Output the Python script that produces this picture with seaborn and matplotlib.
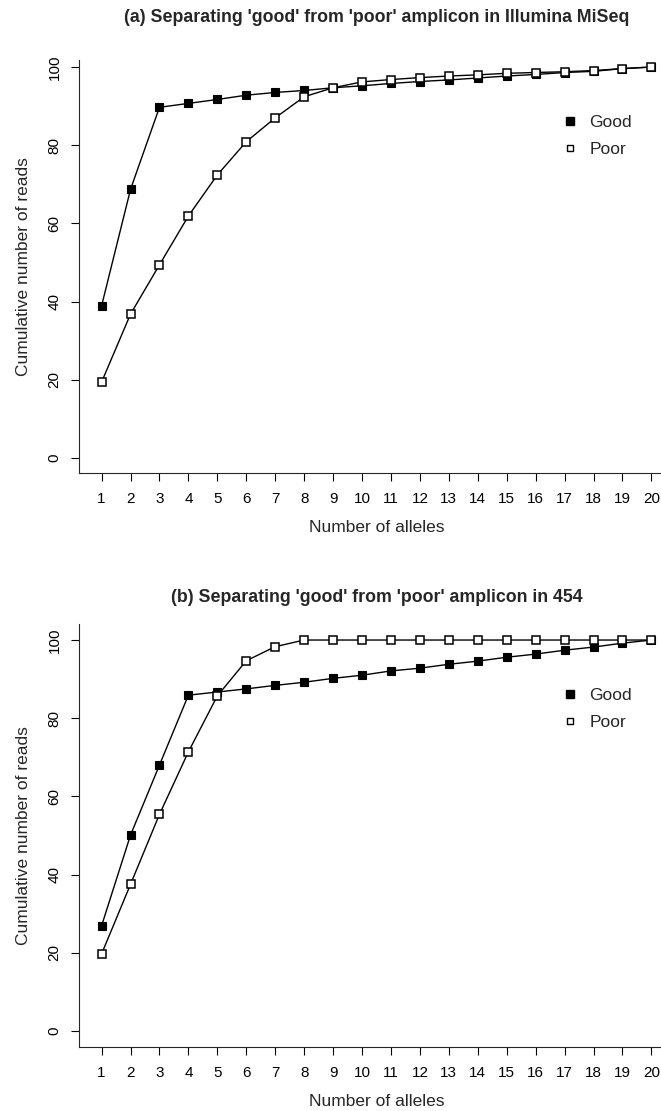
import numpy as np
import pandas as pd
import matplotlib
matplotlib.use("Agg")
import matplotlib.pyplot as plt
import seaborn as sns
from matplotlib.lines import Line2D

alleles = list(range(1, 21))

miseq_good = [38.9, 68.7, 89.7, 90.7, 91.7, 92.8, 93.5, 94.0, 94.7, 95.2,
              95.8, 96.3, 96.7, 97.2, 97.7, 98.1, 98.6, 98.9, 99.6, 100.0]
miseq_poor = [19.4, 36.8, 49.4, 61.9, 72.4, 80.9, 87.0, 92.4, 94.7, 96.2,
              96.8, 97.3, 97.7, 98.0, 98.4, 98.6, 98.8, 99.1, 99.6, 100.0]

r454_good = [26.9, 50.1, 68.0, 85.9, 86.7, 87.5, 88.4, 89.2, 90.2, 91.0,
             92.1, 92.8, 93.8, 94.6, 95.6, 96.4, 97.4, 98.2, 99.2, 100.0]
r454_poor = [19.7, 37.5, 55.4, 71.4, 85.7, 94.7, 98.3, 100.0, 100.0, 100.0,
             100.0, 100.0, 100.0, 100.0, 100.0, 100.0, 100.0, 100.0, 100.0, 100.0]

titles = ["(a) Separating 'good' from 'poor' amplicon in Illumina MiSeq",
          "(b) Separating 'good' from 'poor' amplicon in 454"]
series_labels = ["Good", "Poor"]
y_ticks = [0, 20, 40, 60, 80, 100]

sns.set_theme(style="ticks")
plt.rcParams["font.family"] = ["Liberation Sans", "DejaVu Sans"]
plt.rcParams["axes.linewidth"] = 0.8

fig = plt.figure(figsize=(6.61, 11.11), dpi=100)
W, H = 661, 1111

def make_axes(left_px, top_px, right_px, bottom_px):
    return fig.add_axes([left_px / W, 1 - bottom_px / H,
                         (right_px - left_px) / W, (bottom_px - top_px) / H])

panels = [
    dict(ax=make_axes(79, 60, 674, 473), good=miseq_good, poor=miseq_poor,
         ylim=(-3.84, 101.8), title=titles[0], title_y=18),
    dict(ax=make_axes(79, 624, 674, 1047), good=r454_good, poor=r454_poor,
         ylim=(-4.1, 104.1), title=titles[1], title_y=597),
]

for p in panels:
    ax = p["ax"]
    df = pd.DataFrame({"alleles": alleles * 2,
                       "reads": p["good"] + p["poor"],
                       "group": [series_labels[0]] * 20 + [series_labels[1]] * 20})
    sns.lineplot(data=df[df.group == "Good"], x="alleles", y="reads", ax=ax,
                 color="black", lw=1.0, marker="s", markersize=6,
                 markerfacecolor="black", markeredgecolor="black",
                 markeredgewidth=0.8, legend=False)
    sns.lineplot(data=df[df.group == "Poor"], x="alleles", y="reads", ax=ax,
                 color="black", lw=1.0, marker="s", markersize=5.5,
                 markerfacecolor="white", markeredgecolor="black",
                 markeredgewidth=1.1, legend=False)
    ax.set_xlim(0.22, 20.78)
    ax.set_ylim(*p["ylim"])
    ax.set_xticks(alleles)
    ax.set_yticks(y_ticks)
    ax.set_yticklabels([str(v) for v in y_ticks], rotation=90, va="center")
    ax.tick_params(axis="both", direction="out", length=5.5, width=0.8,
                   labelsize=11, colors="black", pad=8)
    ax.tick_params(axis="y", pad=7)
    sns.despine(ax=ax, top=True, right=True)
    ax.set_xlabel("Number of alleles", fontsize=12.5, labelpad=10)
    ax.set_ylabel("Cumulative number of reads", fontsize=12.5, labelpad=12)
    fig.text(376.5 / W, 1 - p["title_y"] / H, p["title"], fontsize=12.8,
             fontweight="bold", ha="center", va="center")
    handles = [Line2D([], [], ls="none", marker="s", markersize=6,
                      markerfacecolor="black", markeredgecolor="black"),
               Line2D([], [], ls="none", marker="s", markersize=5,
                      markerfacecolor="white", markeredgecolor="black")]
    ax.legend(handles, series_labels, frameon=False, fontsize=12.5,
              loc="center left", bbox_to_anchor=(16.9, 82.4),
              bbox_transform=ax.transData, borderaxespad=0, borderpad=0,
              handlelength=1.0, handletextpad=0.6, labelspacing=0.65)
    ax.grid(False)

fig.savefig("out.png", dpi=100)
